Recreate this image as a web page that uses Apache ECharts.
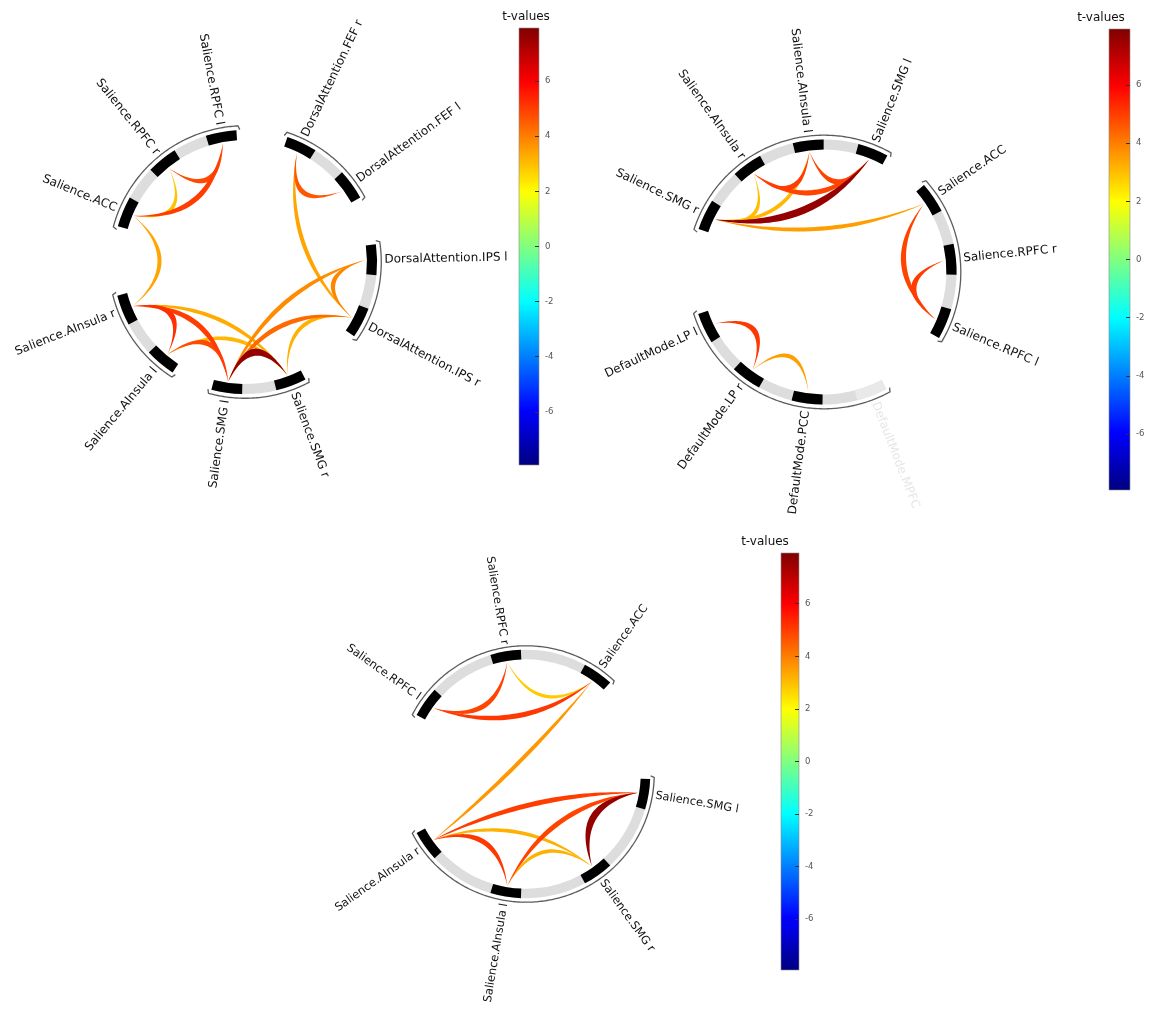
<!DOCTYPE html>
<html>
<head>
<meta charset="utf-8">
<script src="https://cdn.jsdelivr.net/npm/echarts@6/dist/echarts.min.js"></script>
<style>
html, body { margin: 0; padding: 0; background: #ffffff; }
#chart { width: 1150px; height: 1010px; }
</style>
</head>
<body>
<div id="chart"></div>
<script>
// ---------------- data ----------------
// colour scale of the connection strengths (t statistics)
const tRange = [-7.93, 7.93];
const tTicks = [-6, -4, -2, 0, 2, 4, 6];

// Panel A: Salience and Dorsal Attention ROIs, ring order is counter-clockwise per arc
const groupsA = [
  ['DorsalAttention.IPS r', 'DorsalAttention.IPS l'],
  ['DorsalAttention.FEF l', 'DorsalAttention.FEF r'],
  ['Salience.RPFC l', 'Salience.RPFC r', 'Salience.ACC'],
  ['Salience.AInsula r', 'Salience.AInsula l'],
  ['Salience.SMG l', 'Salience.SMG r']
];
const fadedA = [];
const linksA = [
  ['Salience.RPFC r', 'Salience.RPFC l', 4.8],
  ['Salience.RPFC r', 'Salience.ACC', 2.9],
  ['Salience.ACC', 'Salience.RPFC l', 5.0],
  ['Salience.ACC', 'Salience.AInsula r', 3.4],
  ['DorsalAttention.FEF r', 'DorsalAttention.FEF l', 4.6],
  ['DorsalAttention.FEF r', 'DorsalAttention.IPS r', 3.4],
  ['DorsalAttention.IPS l', 'DorsalAttention.IPS r', 3.9],
  ['DorsalAttention.IPS l', 'Salience.SMG l', 3.8],
  ['DorsalAttention.IPS r', 'Salience.SMG l', 4.3],
  ['DorsalAttention.IPS r', 'Salience.SMG r', 3.2],
  ['Salience.SMG l', 'Salience.SMG r', 7.6],
  ['Salience.AInsula r', 'Salience.SMG l', 5.0],
  ['Salience.AInsula r', 'Salience.AInsula l', 5.2],
  ['Salience.AInsula r', 'Salience.SMG r', 3.3],
  ['Salience.AInsula l', 'Salience.SMG l', 4.8],
  ['Salience.AInsula l', 'Salience.SMG r', 3.1]
];

// Panel B: Salience and Default Mode ROIs
const groupsB = [
  ['Salience.RPFC l', 'Salience.RPFC r', 'Salience.ACC'],
  ['Salience.SMG l', 'Salience.AInsula l', 'Salience.AInsula r', 'Salience.SMG r'],
  ['DefaultMode.LP l', 'DefaultMode.LP r', 'DefaultMode.PCC', 'DefaultMode.MPFC']
];
const fadedB = ['DefaultMode.MPFC'];
const linksB = [
  ['Salience.SMG r', 'Salience.SMG l', 7.6],
  ['Salience.SMG r', 'Salience.ACC', 3.5],
  ['Salience.SMG r', 'Salience.AInsula l', 3.1],
  ['Salience.SMG r', 'Salience.AInsula r', 3.0],
  ['Salience.AInsula r', 'Salience.SMG l', 4.9],
  ['Salience.AInsula r', 'Salience.AInsula l', 5.0],
  ['Salience.AInsula l', 'Salience.SMG l', 4.9],
  ['Salience.ACC', 'Salience.RPFC l', 4.9],
  ['Salience.RPFC r', 'Salience.RPFC l', 5.0],
  ['DefaultMode.LP l', 'DefaultMode.LP r', 5.1],
  ['DefaultMode.LP r', 'DefaultMode.PCC', 3.5]
];

// Panel C: Salience ROIs only
const groupsC = [
  ['Salience.ACC', 'Salience.RPFC r', 'Salience.RPFC l'],
  ['Salience.AInsula r', 'Salience.AInsula l', 'Salience.SMG r', 'Salience.SMG l']
];
const fadedC = [];
const linksC = [
  ['Salience.RPFC l', 'Salience.RPFC r', 4.9],
  ['Salience.RPFC l', 'Salience.ACC', 5.1],
  ['Salience.RPFC r', 'Salience.ACC', 2.8],
  ['Salience.ACC', 'Salience.AInsula r', 3.6],
  ['Salience.AInsula r', 'Salience.SMG l', 5.0],
  ['Salience.AInsula r', 'Salience.AInsula l', 5.1],
  ['Salience.AInsula r', 'Salience.SMG r', 3.2],
  ['Salience.AInsula l', 'Salience.SMG l', 4.9],
  ['Salience.AInsula l', 'Salience.SMG r', 3.2],
  ['Salience.SMG l', 'Salience.SMG r', 7.6]
];

// ---------------- layout and styling ----------------
const FONT = 'DejaVu Sans';
const JET = ['#000080', '#0000ff', '#0080ff', '#00ffff', '#80ff80', '#ffff00', '#ff8000', '#ff0000', '#800000'];

// radius units: 100 = middle of the ROI ring
const R_LINK = 95;     // where connection ribbons attach
const R_IN = 96, R_OUT = 104;
const R_BRACKET = 107.3;
const R_LABEL = 109.8;

const panels = [
  {
    groups: groupsA, faded: fadedA, links: linksA,
    center: [245, 262], radius: 127, starts: [332.5, 36, 100.5, 201.5, 262], step: 28.5, block: 13.5, fontSize: 12,
    bar: { left: 519, top: 28, width: 20, height: 437 }, title: [526, 17]
  },
  {
    groups: groupsB, faded: fadedB, links: linksB,
    center: [824, 272], radius: 127.5, starts: [336.9, 68.2, 205.2], step: 28.7, block: 13.5, fontSize: 12,
    bar: { left: 1109, top: 29, width: 21, height: 461 }, title: [1101, 18]
  },
  {
    groups: groupsC, faded: fadedC, links: linksC,
    center: [526, 774], radius: 119.5, starts: [54.5, 215.5], step: 45, block: 14.3, fontSize: 11.4,
    bar: { left: 781, top: 553, width: 18, height: 417 }, title: [765, 542]
  }
];

function dist(a, b) { return Math.hypot(a[0] - b[0], a[1] - b[1]); }

function sectorEl(api, a0, a1, r0, r1, fill) {
  const O = api.coord([0, 0]);
  const pr0 = dist(O, api.coord([r0, 0]));
  const pr1 = dist(O, api.coord([r1, 0]));
  return {
    type: 'sector',
    shape: { cx: O[0], cy: O[1], r0: pr0, r: pr1,
      startAngle: -a1 * Math.PI / 180, endAngle: -a0 * Math.PI / 180, clockwise: true },
    style: { fill: fill }
  };
}

const option = {
  animation: false,
  backgroundColor: '#ffffff',
  polar: [], angleAxis: [], radiusAxis: [],
  grid: [], xAxis: [], yAxis: [],
  visualMap: [],
  graphic: [],
  series: []
};

const linkSeriesIdx = [];

panels.forEach(function (p, i) {
  // angle of every ROI on the ring
  const angleOf = {};
  const nodeNames = [];
  const nodeAngles = [];
  const arcs = [];
  p.groups.forEach(function (g, gi) {
    g.forEach(function (name, k) {
      const a = p.starts[gi] + k * p.step;
      angleOf[name] = a;
      nodeNames.push(name);
      nodeAngles.push(a);
    });
    arcs.push([p.starts[gi] - p.block / 2, p.starts[gi] + (g.length - 1) * p.step + p.block / 2]);
  });

  option.polar.push({ center: p.center, radius: p.radius });
  option.angleAxis.push({ polarIndex: i, type: 'value', min: 0, max: 360, startAngle: 0, clockwise: false, show: false });
  option.radiusAxis.push({ polarIndex: i, type: 'value', min: 0, max: 100, show: false });

  // grey ring arcs with the outer bracket line
  option.series.push({
    type: 'custom', coordinateSystem: 'polar', polarIndex: i, z: 1, silent: true,
    data: arcs,
    renderItem: function (params, api) {
      const s = api.value(0), e = api.value(1);
      const pts = [api.coord([104.3, s - 1.5])];
      const n = Math.ceil((e - s + 1.6) / 0.8);
      for (let j = 0; j <= n; j++) pts.push(api.coord([R_BRACKET, s - 0.8 + (e - s + 1.6) * j / n]));
      pts.push(api.coord([104.3, e + 1.5]));
      return {
        type: 'group',
        children: [
          sectorEl(api, s, e, R_IN, R_OUT, '#dddddd'),
          { type: 'polyline', shape: { points: pts }, style: { stroke: '#5c5c5c', lineWidth: 1.3, fill: null } }
        ]
      };
    }
  });

  // ROI blocks and their labels
  option.series.push({
    type: 'custom', coordinateSystem: 'polar', polarIndex: i, z: 2, silent: true,
    data: nodeAngles.map(function (a, k) { return [a, p.faded.indexOf(nodeNames[k]) >= 0 ? 1 : 0]; }),
    renderItem: function (params, api) {
      const a = api.value(0);
      const faded = api.value(1) === 1;
      const name = nodeNames[params.dataIndex];
      const pos = api.coord([R_LABEL, a]);
      const rad = a * Math.PI / 180;
      const right = Math.cos(rad) >= 0;
      return {
        type: 'group',
        children: [
          sectorEl(api, a - p.block / 2, a + p.block / 2, R_IN, R_OUT, faded ? '#e9e9e9' : '#000000'),
          {
            type: 'text', x: pos[0], y: pos[1], rotation: right ? rad : rad - Math.PI,
            style: {
              text: name, align: right ? 'left' : 'right', verticalAlign: 'middle',
              fontSize: p.fontSize, fontFamily: FONT, fill: faded ? '#e6e6e6' : '#111111'
            }
          }
        ]
      };
    }
  });

  // tapered connection ribbons, strongest drawn last
  const sorted = p.links.slice().sort(function (u, v) { return Math.abs(u[2]) - Math.abs(v[2]); });
  linkSeriesIdx.push(option.series.length);
  option.series.push({
    type: 'custom', coordinateSystem: 'polar', polarIndex: i, z: 3, silent: true,
    data: sorted.map(function (l) { return [angleOf[l[0]], angleOf[l[1]], l[2]]; }),
    renderItem: function (params, api) {
      const a1 = api.value(0), a2 = api.value(1), t = api.value(2);
      const O = api.coord([0, 0]);
      const Rp = dist(O, api.coord([100, 0]));
      const p0 = api.coord([R_LINK, a1]);
      const p2 = api.coord([R_LINK, a2]);
      const mx = (p0[0] + p2[0]) / 2, my = (p0[1] + p2[1]) / 2;
      const chord = dist(p0, p2) / Rp;
      const k = 0.6 - 0.1 * chord;
      const cx = O[0] + k * (mx - O[0]), cy = O[1] + k * (my - O[1]);
      const w = (1.5 + 0.75 * Math.abs(t)) * Rp / 127;
      const dx = p2[0] - p0[0], dy = p2[1] - p0[1];
      const L = Math.hypot(dx, dy) || 1;
      const nx = -dy / L, ny = dx / L;
      const c1 = [cx + nx * w, cy + ny * w], c2 = [cx - nx * w, cy - ny * w];
      const N = 40;
      const pts = [];
      function q(c, s) {
        const u = 1 - s;
        return [u * u * p0[0] + 2 * u * s * c[0] + s * s * p2[0], u * u * p0[1] + 2 * u * s * c[1] + s * s * p2[1]];
      }
      for (let j = 0; j <= N; j++) pts.push(q(c1, j / N));
      for (let j = N; j >= 0; j--) pts.push(q(c2, j / N));
      return { type: 'polygon', shape: { points: pts }, style: { fill: api.visual('color') } };
    }
  });

  // colour bar
  option.grid.push({ left: p.bar.left, top: p.bar.top, width: p.bar.width, height: p.bar.height, containLabel: false });
  option.xAxis.push({ gridIndex: i, type: 'category', data: ['t'], show: false });
  option.yAxis.push({
    gridIndex: i, type: 'value', min: tRange[0], max: tRange[1], position: 'right', z: 5,
    axisLine: { show: false }, splitLine: { show: false },
    axisTick: { show: true, inside: true, length: 4, lineStyle: { color: '#333333', width: 1 }, customValues: tTicks },
    axisLabel: { customValues: tTicks, fontSize: 8.5, color: '#555555', margin: 6, fontFamily: FONT }
  });
  option.series.push({
    type: 'custom', xAxisIndex: i, yAxisIndex: i, z: 2, silent: true,
    data: [[0, tRange[0], tRange[1]]],
    renderItem: function (params, api) {
      const top = api.coord([api.value(0), api.value(2)]);
      const bot = api.coord([api.value(0), api.value(1)]);
      const bw = api.size([1, 0])[0];
      const stops = JET.slice().reverse().map(function (c, j, arr) { return { offset: j / (arr.length - 1), color: c }; });
      return {
        type: 'rect',
        shape: { x: top[0] - bw / 2, y: top[1], width: bw, height: bot[1] - top[1] },
        style: { fill: new echarts.graphic.LinearGradient(0, 0, 0, 1, stops), stroke: '#8c8c8c', lineWidth: 0.6 }
      };
    }
  });
  option.graphic.push({
    type: 'text', x: p.title[0], y: p.title[1],
    style: { text: 't-values', align: 'center', verticalAlign: 'middle', fontSize: 12, fontFamily: FONT, fill: '#111111' }
  });
});

option.visualMap.push({
  type: 'continuous', show: false, min: tRange[0], max: tRange[1], dimension: 2,
  seriesIndex: linkSeriesIdx, inRange: { color: JET }
});

const chart = echarts.init(document.getElementById('chart'), null, { renderer: 'canvas' });
chart.setOption(option);
</script>
</body>
</html>
